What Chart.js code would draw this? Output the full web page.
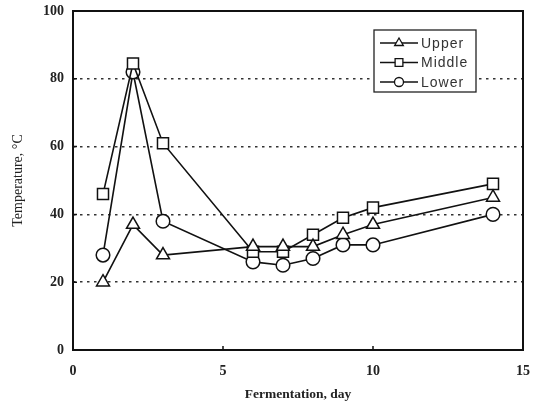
<!DOCTYPE html>
<html>
<head>
<meta charset="utf-8">
<script src="https://cdn.jsdelivr.net/npm/chart.js@4.4.1/dist/chart.umd.min.js"></script>
<style>
  html, body { margin: 0; padding: 0; background: #fff; }
  #wrap { width: 535px; height: 410px; position: relative; }
</style>
</head>
<body>
<div id="wrap"><canvas id="c" width="535" height="410"></canvas></div>
<script>
const days = [1, 2, 3, 6, 7, 8, 9, 10, 14];
const upper = [20, 37, 28, 30.5, 30.5, 30.5, 34, 37, 45];
const middle = [46, 84.5, 61, 29, 29, 34, 39, 42, 49];
const lower = [28, 82, 38, 26, 25, 27, 31, 31, 40];
const seriesLabels = ['Upper', 'Middle', 'Lower'];
const xTicks = [0, 5, 10, 15];
const yTicks = [0, 20, 40, 60, 80, 100];

const toPts = arr => days.map((d, i) => ({ x: d, y: arr[i] }));

const styles = [
  { pointStyle: 'triangle', radius: 7.5, legendRadius: 5 },
  { pointStyle: 'rect', radius: 7.8, legendRadius: 5.5 },
  { pointStyle: 'circle', radius: 6.8, legendRadius: 4.5 }
];

const datasets = [upper, middle, lower].map((arr, i) => ({
  label: seriesLabels[i],
  data: toPts(arr),
  borderColor: '#111',
  borderWidth: 1.6,
  backgroundColor: '#fff',
  pointBackgroundColor: '#fff',
  pointBorderColor: '#111',
  pointBorderWidth: 1.5,
  pointStyle: styles[i].pointStyle,
  pointRadius: styles[i].radius,
  tension: 0
}));

const framePlugin = {
  id: 'frame',
  afterDraw(chart) {
    const { ctx, chartArea: a, scales } = chart;
    ctx.save();
    ctx.strokeStyle = '#111';
    ctx.lineWidth = 2;
    ctx.setLineDash([]);
    ctx.strokeRect(a.left, a.top, a.right - a.left, a.bottom - a.top);
    ctx.lineWidth = 1.5;
    ctx.beginPath();
    yTicks.forEach(v => {
      const y = scales.y.getPixelForValue(v);
      ctx.moveTo(a.left, y); ctx.lineTo(a.left + 4, y);
    });
    xTicks.forEach(v => {
      const x = scales.x.getPixelForValue(v);
      ctx.moveTo(x, a.bottom); ctx.lineTo(x, a.bottom - 4);
    });
    ctx.stroke();

    const lx = 374, ly = 30, lw = 102, lh = 62;
    ctx.fillStyle = '#fff';
    ctx.fillRect(lx, ly, lw, lh);
    ctx.strokeStyle = '#222';
    ctx.lineWidth = 1.3;
    ctx.strokeRect(lx, ly, lw, lh);
    ctx.font = '14px "Liberation Sans", Arial, sans-serif';
    try { ctx.letterSpacing = '1px'; } catch (e) {}
    ctx.textBaseline = 'middle';
    ctx.textAlign = 'left';
    chart.data.datasets.forEach((ds, i) => {
      const y = ly + 13 + i * 19.5;
      ctx.strokeStyle = '#111';
      ctx.lineWidth = 1.5;
      ctx.beginPath();
      ctx.moveTo(lx + 6, y); ctx.lineTo(lx + 44, y);
      ctx.stroke();
      ctx.fillStyle = '#fff';
      ctx.lineWidth = 1.3;
      Chart.helpers.drawPoint(ctx, { pointStyle: styles[i].pointStyle, radius: styles[i].legendRadius, borderWidth: 1.3 }, lx + 25, y);
      ctx.fillStyle = '#333';
      ctx.fillText(ds.label, lx + 47, y + 1);
    });
    ctx.restore();
  }
};

new Chart(document.getElementById('c'), {
  type: 'line',
  data: { datasets },
  options: {
    responsive: false,
    animation: false,
    devicePixelRatio: 1,
    layout: { padding: { top: 11, right: 12, left: 0, bottom: 0 } },
    plugins: { legend: { display: false }, tooltip: { enabled: false } },
    scales: {
      x: {
        type: 'linear',
        min: 0, max: 15,
        afterBuildTicks: s => { s.ticks = xTicks.map(v => ({ value: v })); },
        afterFit: s => { s.height = 60; s.paddingLeft = 0; s.paddingRight = 0; },
        grid: { display: false, drawTicks: false },
        border: { display: false },
        ticks: { color: '#222', padding: 13, font: { family: '"Liberation Serif", "Times New Roman", serif', size: 14, weight: 'bold' } },
        title: { display: true, text: 'Fermentation, day', color: '#222', padding: { top: 0, bottom: 7 }, font: { family: '"Liberation Serif", "Times New Roman", serif', size: 13.5, weight: 'bold' } }
      },
      y: {
        type: 'linear',
        min: 0, max: 100,
        afterBuildTicks: s => { s.ticks = yTicks.map(v => ({ value: v })); },
        afterFit: s => { s.width = 73; s.paddingTop = 0; s.paddingBottom = 0; },
        grid: {
          drawTicks: false,
          color: c => (c.tick && (c.tick.value === 0 || c.tick.value === 100)) ? 'rgba(0,0,0,0)' : '#333',
          lineWidth: 1.5
        },
        border: { display: false, dash: [2.5, 4.5] },
        ticks: { color: '#222', padding: 9, font: { family: '"Liberation Serif", "Times New Roman", serif', size: 14, weight: 'bold' } },
        title: { display: true, text: 'Temperature, °C', color: '#222', padding: { top: 10, bottom: 0 }, font: { family: '"Liberation Serif", "Times New Roman", serif', size: 14 } }
      }
    }
  },
  plugins: [framePlugin]
});
</script>
</body>
</html>
